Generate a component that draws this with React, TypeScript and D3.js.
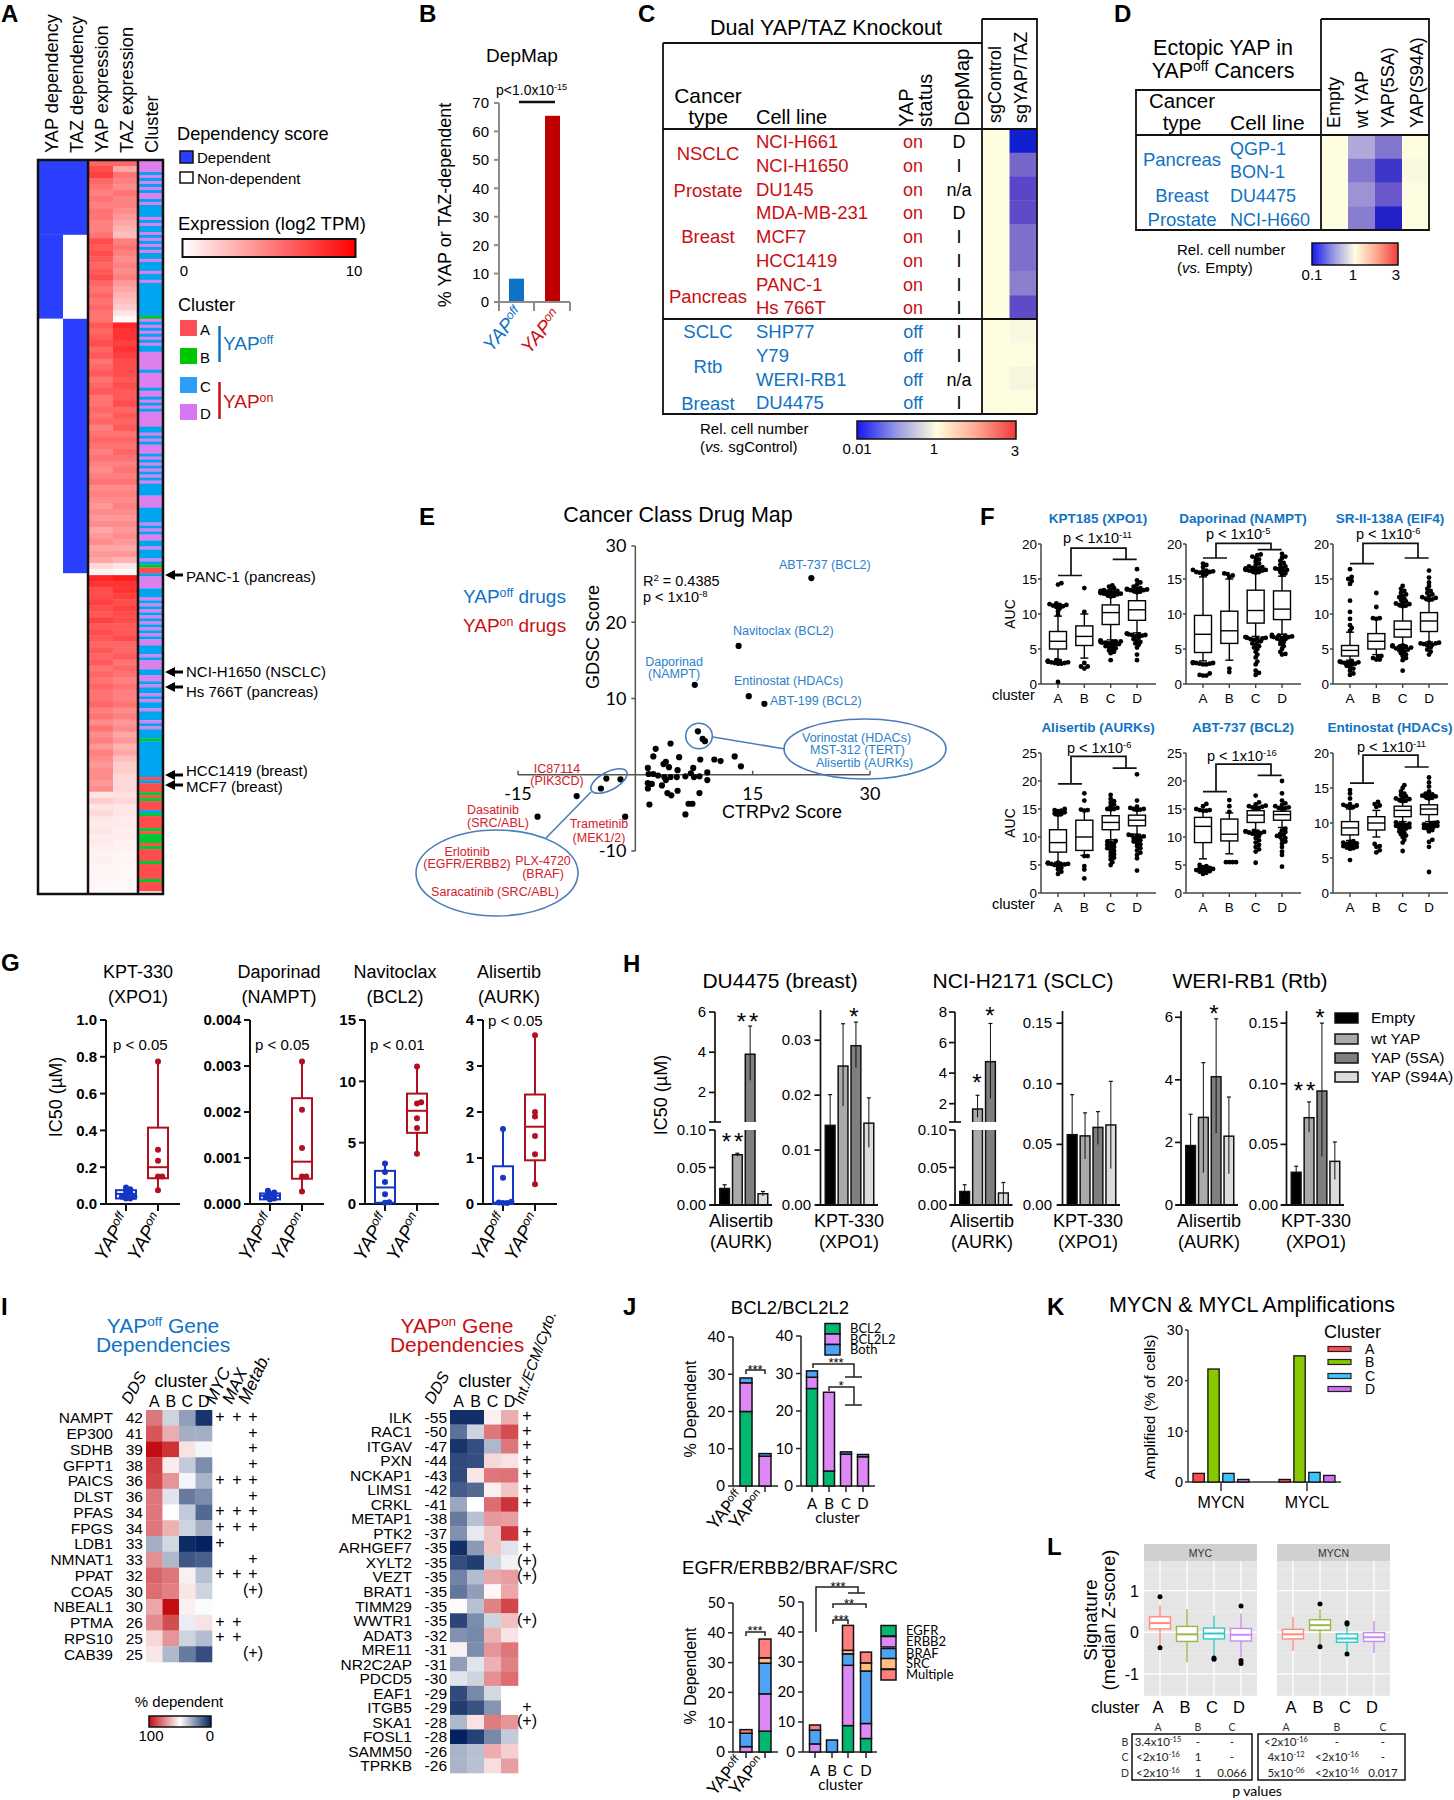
import * as d3 from 'd3';

const SANS = '"Liberation Sans", Arial, sans-serif';
const LATO = 'Lato, "Open Sans", sans-serif';
const BLUE = '#0f72c4';
const RED = '#c80f14';
const CLUSTERS = ['A', 'B', 'C', 'D'];

// ---- A: heatmap
const CLUSTER_COLORS = { A: '#ff4d4d', B: '#00c832', C: '#00a5f0', D: '#dd80ee' };
const DEP_GROUPS = [
  [1, 1, 25],
  [1, 0, 28],
  [0, 1, 85],
  [0, 0, 107],
];
const CLUSTER_RUNS: [string, number][] = [
  ['D', 4], ['C', 1], ['D', 1], ['C', 1], ['D', 1], ['C', 1], ['D', 1], ['C', 1], ['D', 2], ['C', 1], ['D', 1],
  ['C', 4], ['D', 1], ['C', 1], ['D', 1], ['C', 2], ['D', 1], ['C', 1], ['D', 1], ['C', 1], ['D', 1], ['C', 1],
  ['D', 1], ['C', 2], ['D', 1], ['C', 3], ['D', 1], ['C', 2], ['D', 1], ['C', 1], ['C', 10], ['B', 1],
  ['D', 1], ['C', 1], ['D', 1], ['C', 1], ['D', 1], ['C', 1], ['D', 1], ['C', 1], ['D', 1], ['C', 2],
  ['D', 6], ['C', 1], ['D', 5], ['C', 1], ['D', 2], ['C', 1], ['D', 1], ['C', 1], ['D', 1], ['C', 1], ['D', 5],
  ['C', 2], ['D', 1], ['C', 1], ['D', 1], ['C', 1], ['D', 3], ['C', 1], ['D', 1], ['C', 1], ['D', 1], ['C', 1],
  ['D', 1], ['C', 1], ['D', 1], ['C', 1], ['D', 1], ['C', 4], ['D', 4], ['C', 5], ['D', 1], ['C', 1], ['D', 1],
  ['C', 1], ['D', 2], ['C', 2], ['D', 1], ['C', 3], ['D', 1], ['C', 1], ['B', 1], ['A', 2], ['C', 1], ['D', 4],
  ['C', 3], ['D', 1], ['C', 1], ['D', 1], ['C', 1], ['D', 1], ['C', 1], ['D', 1], ['C', 1], ['D', 1], ['C', 1],
  ['D', 1], ['C', 1], ['D', 1], ['C', 1], ['D', 2], ['C', 3], ['D', 1], ['C', 1], ['D', 3], ['C', 2], ['D', 2],
  ['C', 1], ['D', 1], ['C', 2], ['D', 1], ['C', 1], ['D', 1], ['C', 2], ['D', 1], ['C', 3], ['D', 1], ['C', 1],
  ['D', 1], ['C', 3], ['B', 1], ['C', 12], ['A', 1], ['C', 1], ['A', 3], ['B', 1], ['A', 1], ['B', 1], ['A', 3],
  ['C', 1], ['B', 1], ['A', 4], ['B', 1], ['A', 1], ['B', 3], ['A', 1], ['B', 1], ['A', 4], ['B', 1], ['A', 5],
  ['B', 1], ['A', 3],
];
const YAP_EXPR = [
  6, 7, 7.5, 6, 5.5, 5, 5.5, 5, 5.5, 5.5, 5, 5, 5.5,
  7, 6.5, 7, 6.5, 6, 6.5, 7, 6, 5.5, 6, 5.5, 6, 5.5, 5.5,
  6.5, 6, 6.5, 7, 6, 6.5, 5.5, 6, 6.5, 5.5, 6, 6.5, 5.5, 5.5, 6, 5.5, 6, 5, 5.5, 6, 5.5, 5, 5.5, 5, 4.5, 5, 5.5, 4.5, 5, 4.5, 4, 4.5, 4, 4.5, 3.5, 4, 4.5, 3.5, 4, 3.5, 1.5, 0.5,
  8.5, 8, 7, 7, 7.5, 7, 6.5, 7.5, 6.5, 7, 6.5, 6, 6.5, 6, 6.5, 5.5, 6, 5.5, 6, 5.5, 5.5, 6, 5, 5.5, 4.5, 5.5, 4.5, 5, 4, 5, 4.5, 4, 4.5, 4.5, 4, 4.5,
  1, 2, 1, 1.5, 1, 0.8, 1, 0.7, 0.8, 0.6, 0.5, 0.6, 0.4, 0.4, 0.3, 0.3, 0.2,
];
const TAZ_EXPR = [
  6, 3.5, 5.5, 5, 4.5, 5.5, 5, 5, 4.5, 4, 3.5, 3, 2.5,
  5, 5.5, 5, 4.5, 5, 4.5, 5, 4, 3.5, 3, 2.5, 2, 1, 0.2,
  8.5, 8, 8, 7.5, 8, 7.5, 7, 7, 7, 6.5, 7, 6.5, 6.5, 7, 6, 6.5, 6, 6.5, 5.5, 6, 5.5, 6, 5.5, 5, 5.5, 5, 5.5, 4.5, 5, 4.5, 5, 4.5, 4, 4.5, 4, 4.5, 4, 3.5, 4, 3, 1, 0.2,
  9, 8, 8, 7.5, 7, 7.5, 7, 7, 6.5, 6.5, 7, 6, 6, 6.5, 5.5, 6, 5.5, 5, 5.5, 5, 5, 5.5, 4.5, 5, 4, 4.5, 3.5, 4, 3, 3.5, 2.5, 2, 2, 1.5, 1.5, 1.5,
  1.2, 1.5, 1, 1, 0.8, 0.8, 0.6, 0.7, 0.5, 0.5, 0.4, 0.4, 0.3, 0.3, 0.3, 0.2, 0.2,
];
const A_HEADERS = ['YAP dependency', 'TAZ dependency', 'YAP expression', 'TAZ expression', 'Cluster'];
const A_CALLOUTS: [string, number, number][] = [
  ['PANC-1 (pancreas)', 575, 582],
  ['NCI-H1650 (NSCLC)', 672, 677],
  ['Hs 766T (pancreas)', 687, 697],
  ['HCC1419 (breast)', 775, 776],
  ['MCF7 (breast)', 785, 792],
];

// ---- B
const B_VALUES = [8.2, 65.5];

// ---- C / D
const C_ROWS = [
  ['NCI-H661', 'on', 'D'], ['NCI-H1650', 'on', 'I'], ['DU145', 'on', 'n/a'], ['MDA-MB-231', 'on', 'D'],
  ['MCF7', 'on', 'I'], ['HCC1419', 'on', 'I'], ['PANC-1', 'on', 'I'], ['Hs 766T', 'on', 'I'],
  ['SHP77', 'off', 'I'], ['Y79', 'off', 'I'], ['WERI-RB1', 'off', 'n/a'], ['DU4475', 'off', 'I'],
];
const C_TYPES: [string, number, string][] = [
  ['NSCLC', 160, RED], ['Prostate', 197, RED], ['Breast', 243, RED], ['Pancreas', 303, RED],
  ['SCLC', 338, BLUE], ['Rtb', 373, BLUE], ['Breast', 410, BLUE],
];
const C_CONTROL = [1, 1, 1, 1, 1, 1, 1, 1, 1, 1, 1, 1];
const C_KO = [0.01, 0.06, 0.03, 0.033, 0.07, 0.07, 0.1, 0.033, 0.9, 1, 0.85, 1];
const D_ROWS = ['QGP-1', 'BON-1', 'DU4475', 'NCI-H660'];
const D_COLS = ['Empty', 'wt YAP', 'YAP(5SA)', 'YAP(S94A)'];
const D_VALUES = [
  [1, 1, 1, 1],
  [0.45, 0.27, 0.36, 0.29],
  [0.27, 0.13, 0.2, 0.1],
  [1, 0.95, 0.98, 1],
];

// ---- E
const E_POINTS = [
  [22.5, 25.8], [13.2, 16.9], [7.6, 11.8], [14.5, 10.3], [16.5, 9.3], [8, 5.7], [8.6, 4.7], [8.9, 4.4], [4.5, 4.1],
  [2.6, 3.4], [2.3, 2.4], [5.6, 2.3], [8.3, 2], [10.1, 2], [10.9, 1.8], [12.7, 2.4], [13.5, 1.1], [3.9, 1.7],
  [3.6, 1.4], [4.3, 1], [1.6, 0.9], [5.4, 0.6], [7.4, 0.9], [9.2, 0.3], [7.1, 0.2], [1.7, 0.1], [2.3, 0.1],
  [2.9, -0.1], [3.7, -0.3], [4.5, -0.3], [5.3, -0.3], [6.4, -0.2], [7.5, -0.3], [8.2, -0.2], [9.2, -0.7], [3.9, -0.7],
  [3.4, -1.4], [2.1, -1.2], [1.6, -1.1], [1.6, -1.8], [5.4, -2.1], [4.1, -2.4], [4.6, -2.7], [8.2, -2.4], [1.8, -3.9],
  [6.8, -3.8], [7.3, -3.8], [6.4, -5.2], [-1.3, -5.5], [-1.9, -0.6], [-3.7, -0.5], [-4.4, -1.8], [-7.5, -2.8], [-12.5, -5.5],
];
const E_BLUE_LABELS: [string, number, number, string?][] = [
  ['ABT-737 (BCL2)', 779, 569], ['Navitoclax (BCL2)', 733, 635], ['Daporinad', 674, 666, 'middle'], ['(NAMPT)', 674, 678, 'middle'],
  ['Entinostat (HDACs)', 734, 685], ['ABT-199 (BCL2)', 770, 705], ['Vorinostat (HDACs)', 802, 742], ['MST-312 (TERT)', 810, 754],
  ['Alisertib (AURKs)', 816, 767],
];
const E_RED_LABELS: [string, number, number][] = [
  ['IC87114', 557, 773], ['(PIK3CD)', 557, 785], ['Dasatinib', 493, 814], ['(SRC/ABL)', 498, 827], ['Trametinib', 599, 828],
  ['(MEK1/2)', 599, 842], ['Erlotinib', 467, 856], ['(EGFR/ERBB2)', 467, 868], ['PLX-4720', 543, 865], ['(BRAF)', 543, 878],
  ['Saracatinib (SRC/ABL)', 495, 896],
];

// ---- F: [q1, median, q3, whisker low, whisker high] per cluster
const F_TITLES = ['KPT185 (XPO1)', 'Daporinad (NAMPT)', 'SR-II-138A (EIF4)', 'Alisertib (AURKs)', 'ABT-737 (BCL2)', 'Entinostat (HDACs)'];
const F_PVALUES = ['-11', '-5', '-6', '-6', '-16', '-11'];
const F_YMAX = [20, 20, 20, 25, 25, 20];
const F_BRACKETS = [
  [15.5, 19.4, 17.8], [18, 20.1, 19.2], [17.2, 20.1, 18], [19.5, 24.4, 22.3], [18.1, 23, 21], [15.7, 19.7, 18],
];
const F_BOXES = [
  [[5, 6.1, 7.5, 3.4, 9.7], [5.5, 6.8, 8.3, 3.7, 10], [8.5, 10.2, 11.3, 6.3, 12.4], [9.1, 10.6, 11.9, 7.3, 13]],
  [[4.5, 7.1, 9.8, 3.3, 15.3], [5.8, 7.6, 10.4, 3.4, 15], [8.7, 10.5, 13.4, 6.8, 15.8], [9.2, 10.7, 13.3, 7.1, 15.4]],
  [[4, 4.8, 5.5, 3.4, 7.4], [5, 6.1, 7.2, 4.2, 9.3], [6.7, 7.8, 9, 5.6, 11], [7.5, 9, 10.2, 6, 11.9]],
  [[7.3, 9, 11.3, 5.5, 13.8], [7.6, 10, 13, 6.7, 14.8], [11.3, 12.6, 13.8, 9.5, 14.8], [12, 13, 13.9, 10.5, 14.7]],
  [[9, 11.9, 13.5, 6.1, 14.6], [9.3, 10.5, 13.2, 7, 14.3], [12.6, 13.9, 14.7, 11.2, 15], [13, 14, 14.6, 11.7, 14.9]],
  [[8.3, 9.3, 10.2, 7.5, 12], [9, 10, 10.9, 8, 11.8], [10.9, 11.8, 12.4, 10.2, 13], [11.2, 12, 12.6, 10.2, 13.4]],
];
const F_OUTLIERS = [
  [
    [3.4, 3.3, 3.3, 3.3, 3.2, 3.2, 3.1, 3.1, 3, 3, 2.9, 2.9, 0.3, 9.9, 10.4, 10.8, 11, 11.1, 11.2, 11.3, 11.3, 11.4, 11.5, 14.2, 14.4],
    [3, 2.5, 2.5, 2.2, 10.3, 13.7],
    [6.2, 6.2, 6.1, 6.1, 6, 6, 5.9, 5.9, 5.8, 5.7, 5.6, 5.5, 5.4, 5.3, 5.1, 5, 4.8, 4.6, 4.4, 3.4, 12.5, 12.6, 12.7, 12.8, 12.9, 12.9, 13, 13, 13.1, 13.1, 13.2, 13.3, 13.3, 13.4, 13.5, 13.7, 13.9, 14.1],
    [7.2, 7.2, 7.1, 7.1, 7, 7, 6.9, 6.8, 6.6, 6.4, 6.2, 6, 5.8, 5.6, 5.2, 4.2, 3.4, 13.1, 13.2, 13.3, 13.4, 13.4, 13.5, 13.5, 13.6, 13.6, 13.7, 13.9, 14.2, 14.5, 14.8, 16.4],
  ],
  [
    [3.1, 3.1, 3, 3, 3, 2.9, 2.9, 2.8, 2.8, 1.5, 1.3, 1.2, 1.2, 15.6, 15.7, 15.9, 16, 16, 16.1, 16.1, 16.2, 16.3, 16.7, 17, 17.2],
    [2.2, 1.7, 15.3, 15.5, 15.7, 15.8],
    [6.7, 6.7, 6.6, 6.6, 6.5, 6.5, 6.4, 6.3, 6.1, 6, 5.8, 5.6, 5.4, 5.2, 5, 4.6, 4.2, 3.8, 3.2, 2.8, 1.9, 1.6, 1.3, 15.9, 16, 16.1, 16.2, 16.2, 16.3, 16.3, 16.4, 16.4, 16.5, 16.5, 16.6, 16.7, 16.8, 17, 17.2, 17.5, 17.8, 18, 18.2, 18.4, 18.5],
    [7, 6.9, 6.9, 6.8, 6.8, 6.7, 6.7, 6.6, 6.5, 6.4, 6.2, 6, 5.7, 5.4, 5, 4.6, 4.3, 4.2, 15.6, 15.8, 16, 16.2, 16.3, 16.4, 16.5, 16.6, 16.8, 17, 17.3, 17.6, 18, 18.2, 18.6],
  ],
  [
    [3.3, 3.2, 3.2, 3.1, 3.1, 3, 3, 2.9, 2.8, 2.6, 2.4, 2.2, 1.9, 1.5, 1.3, 7.6, 8, 8.4, 9.3, 10.3, 11.9, 14.3, 14.7, 15, 15.3, 16.4],
    [4, 3.9, 3.7, 3.5, 3.5, 9.4, 9.4, 9.3, 11, 13],
    [5.5, 5.5, 5.4, 5.4, 5.3, 5.3, 5.2, 5.1, 5, 4.9, 4.8, 4.6, 4.4, 4.2, 4, 3.7, 3.4, 1.9, 11.1, 11.2, 11.3, 11.4, 11.5, 11.6, 11.8, 12, 12.2, 12.4, 12.6, 12.8, 13, 13.3, 13.6, 14],
    [5.9, 5.9, 5.8, 5.8, 5.7, 5.6, 5.5, 5.2, 4.9, 4.6, 4.2, 12, 12.1, 12.2, 12.3, 12.4, 12.6, 12.8, 13, 13.3, 13.6, 14, 14.5, 15.2, 16.2],
  ],
  [
    [5.4, 5.4, 5.3, 5.3, 5.2, 5.2, 5.1, 5.1, 5, 4.8, 4.5, 4.2, 3.8, 3.4, 14, 14.1, 14.2, 14.4, 14.6, 14.7, 14.8, 15],
    [6.6, 6.6, 4.8, 4.2, 2.6, 14.8, 14.9, 14.7, 16.5, 17.8],
    [9.3, 9.2, 9, 8.8, 8.6, 8.4, 8.2, 8, 7.8, 7.5, 7.2, 6.9, 6.6, 6.3, 6, 5.5, 5, 14.9, 15, 15, 15.2, 15.5, 15.8, 16.1, 16.4, 16.8, 17.5],
    [10.4, 10.3, 10.2, 10.1, 10, 9.8, 9.6, 9.4, 9.2, 9, 8.7, 8.4, 8, 7.6, 7.2, 6.8, 6.2, 4, 14.8, 14.9, 15, 15, 15.2, 15.4, 16.5, 21.2],
  ],
  [
    [5, 4.8, 4.6, 4.5, 4.4, 4.3, 4.2, 4.1, 4, 3.9, 3.8, 3.6, 3.4, 14.7, 14.7, 14.8, 14.8, 15, 15.5, 15.9],
    [5.5, 5.5, 5.5, 5.5, 14.5, 15.5, 16.6],
    [11.1, 11, 11, 10.9, 10.9, 10.8, 10.7, 10.6, 10.4, 10.2, 9.8, 9.4, 9, 8.6, 8.2, 7.8, 7.4, 5.4, 15.1, 15.2, 15.3, 15.4, 15.5, 15.6, 15.8, 16.2, 17.4],
    [11.5, 11.2, 10.9, 10.6, 10.4, 10.2, 10, 9.8, 9.5, 9.2, 8.8, 8.2, 7.4, 6.8, 4.7, 15, 15.1, 15.2, 15.3, 15.5, 15.7, 16, 16.5, 17.8, 20],
  ],
  [
    [7.4, 7.3, 7.2, 7.1, 7, 6.9, 6.8, 6.7, 6.6, 6.5, 6.4, 6.3, 4.7, 12.2, 12.3, 12.4, 12.5, 12.6, 12.7, 13.5, 14.2, 14.7],
    [7, 6.7, 6.6, 6.1, 5.8, 12.3, 12.5, 12.7, 13],
    [10.1, 10, 9.9, 9.8, 9.7, 9.6, 9.5, 9.4, 9.3, 9.2, 9, 8.8, 8.6, 8.4, 8.2, 8, 7.6, 7.2, 6, 13.1, 13.2, 13.3, 13.4, 13.5, 13.6, 13.8, 14, 14.2, 14.5, 15, 15.4],
    [10.1, 10, 9.9, 9.8, 9.7, 9.6, 9.5, 9.4, 9.3, 9.2, 9, 8.8, 7.6, 7.3, 6.6, 3, 13.5, 13.6, 13.7, 13.8, 13.9, 14, 14.1, 14.2, 14.5, 15.2, 15.8, 16.5],
  ],
];

// ---- G
const G_TITLES = [['KPT-330', '(XPO1)'], ['Daporinad', '(NAMPT)'], ['Navitoclax', '(BCL2)'], ['Alisertib', '(AURK)']];
const G_P = ['p < 0.05', 'p < 0.05', 'p < 0.01', 'p < 0.05'];
const G_MAX = [1, 0.004, 15, 4];
const G_TICKS = [
  ['0.0', '0.2', '0.4', '0.6', '0.8', '1.0'],
  ['0.000', '0.001', '0.002', '0.003', '0.004'],
  ['0', '5', '10', '15'],
  ['0', '1', '2', '3', '4'],
];
const G_OFF_BOX = [
  [0.03, 0.055, 0.075, 0.02, 0.09],
  [0.0001, 0.00018, 0.00023, 0.00007, 0.00029],
  [0.1, 1.35, 2.7, 0.1, 3.3],
  [0, 0.03, 0.82, 0, 1.63],
];
const G_ON_BOX = [
  [0.14, 0.2, 0.415, 0.075, 0.775],
  [0.00055, 0.00092, 0.0023, 0.00027, 0.0031],
  [5.8, 7.6, 9, 4.1, 11.2],
  [0.95, 1.68, 2.38, 0.43, 3.67],
];
const G_OFF_POINTS = [
  [0.09, 0.08, 0.06, 0.04, 0.03, 0.03, 0.04, 0.05, 0.07],
  [0.00029, 0.00025, 0.00022, 0.00015, 0.00012, 0.0001],
  [3.3, 2.6, 1.8, 0.8, 0.15, 0.1],
  [1.63, 0.57, 0.05, 0.03, 0.02, 0.02],
];
const G_ON_POINTS = [
  [0.775, 0.295, 0.235, 0.15, 0.15, 0.075],
  [0.0031, 0.00205, 0.00122, 0.0006, 0.0006, 0.00027],
  [11.2, 8.3, 8.2, 7, 6.2, 4.1],
  [3.67, 2, 1.9, 1.48, 1.08, 0.43],
];

// ---- H: [value, error high, error low]
const H_NAMES = ['Empty', 'wt YAP', 'YAP (5SA)', 'YAP (S94A)'];
const H_FILLS = ['#000', '#aaa', '#7f7f7f', '#dcdcdc'];
const H_TITLES = ['DU4475 (breast)', 'NCI-H2171 (SCLC)', 'WERI-RB1 (Rtb)'];
const H_BARS = [
  [[0.022, 0.027, 0.022], [0.067, 0.069, 0.065], [3.9, 5.3, 2.6], [0.015, 0.018, 0.012]],
  [[0.0145, 0.0201, 0.0145], [0.0253, 0.033, 0.018], [0.029, 0.0333, 0.025], [0.0149, 0.0195, 0.0105]],
  [[0.018, 0.027, 0.018], [1.65, 2.55, 1.1], [4.75, 7.25, 2.35], [0.016, 0.03, 0.001]],
  [[0.058, 0.091, 0.058], [0.057, 0.076, 0.038], [0.064, 0.077, 0.05], [0.066, 0.102, 0.03]],
  [[1.9, 2.9, 1.9], [2.8, 4.55, 1.03], [4.1, 5.95, 2.3], [2.2, 3.45, 1]],
  [[0.027, 0.032, 0.027], [0.072, 0.085, 0.06], [0.094, 0.15, 0.04], [0.036, 0.052, 0.021]],
];
const H_DRUGS = [['Alisertib', '(AURK)'], ['KPT-330', '(XPO1)']];
const H_TICK_LABELS = [
  ['0.00', '0.05', '0.10', '2', '4', '6'],
  ['0.00', '0.01', '0.02', '0.03'],
  ['0.00', '0.05', '0.10', '2', '4', '6', '8'],
  ['0.00', '0.05', '0.10', '0.15'],
  ['0', '2', '4', '6'],
  ['0.00', '0.05', '0.10', '0.15'],
];

// ---- I
const I_OFF_GENES = ['NAMPT', 'EP300', 'SDHB', 'GFPT1', 'PAICS', 'DLST', 'PFAS', 'FPGS', 'LDB1', 'NMNAT1', 'PPAT', 'COA5', 'NBEAL1', 'PTMA', 'RPS10', 'CAB39'];
const I_OFF_DDS = [42, 41, 39, 38, 36, 36, 34, 34, 33, 33, 32, 30, 30, 26, 25, 25];
const I_OFF_VALUES = [
  [78, 40, 28, 4], [85, 67, 32, 32], [100, 92, 56, 48], [90, 54, 38, 24], [88, 72, 48, 33], [78, 44, 20, 24],
  [78, 50, 38, 16], [78, 66, 40, 32], [32, 41, 2, 0], [73, 34, 12, 14], [82, 78, 53, 36], [80, 76, 55, 40],
  [68, 100, 53, 49], [74, 87, 46, 56], [58, 72, 40, 35], [55, 34, 20, 10],
];
const I_OFF_MYC = ['+', '', '', '', '+', '', '+', '+', '+', '', '+', '', '', '+', '+', ''];
const I_OFF_MAX = ['+', '', '', '', '+', '', '+', '+', '', '', '+', '', '', '+', '+', ''];
const I_OFF_METAB = ['+', '+', '+', '+', '+', '+', '+', '+', '', '+', '+', '(+)', '', '', '', '(+)'];
const I_ON_GENES = ['ILK', 'RAC1', 'ITGAV', 'PXN', 'NCKAP1', 'LIMS1', 'CRKL', 'METAP1', 'PTK2', 'ARHGEF7', 'XYLT2', 'VEZT', 'BRAT1', 'TIMM29', 'WWTR1', 'ADAT3', 'MRE11', 'NR2C2AP', 'PDCD5', 'EAF1', 'ITGB5', 'SKA1', 'FOSL1', 'SAMM50', 'TPRKB'];
const I_ON_DDS = [-55, -50, -47, -44, -43, -42, -41, -38, -37, -35, -35, -35, -35, -35, -35, -32, -31, -31, -30, -29, -29, -28, -28, -26, -26];
const I_ON_VALUES = [
  [3, 3, 53, 67], [18, 40, 78, 87], [4, 10, 34, 78], [9, 10, 58, 56], [9, 55, 78, 79], [13, 16, 53, 62], [30, 50, 80, 92],
  [20, 36, 71, 70], [25, 45, 62, 92], [3, 27, 62, 44], [10, 6, 40, 47], [22, 35, 68, 70], [19, 28, 52, 68], [51, 36, 76, 88],
  [8, 24, 40, 63], [25, 23, 66, 56], [53, 24, 72, 78], [28, 44, 66, 76], [44, 40, 73, 80], [9, 23, 41, 50], [6, 11, 26, 50],
  [34, 56, 77, 72], [0, 7, 23, 38], [33, 36, 67, 60], [33, 36, 57, 70],
];
const I_ON_FLAGS = ['+', '+', '+', '+', '+', '+', '+', '', '+', '+', '(+)', '(+)', '', '', '(+)', '', '', '', '', '', '+', '(+)', '', '', ''];

// ---- J
const J1_KEYS = ['BCL2', 'BCL2L2', 'Both'];
const J1_COLORS = ['#00b870', '#dd88f5', '#4fa3f7'];
const J1_YAP = [[20, 7.7, 1.3], [0, 8, 0.7]];
const J1_CLUSTER = [[26, 3, 1.7], [4, 21, 0], [0, 8.5, 0.6], [0, 7.8, 0.6]];
const J2_KEYS = ['EGFR', 'ERBB2', 'BRAF', 'SRC', 'Multiple'];
const J2_COLORS = ['#00b870', '#dd88f5', '#4fa3f7', '#ffbf7f', '#ff7f7f'];
const J2_YAP = [[0, 1.8, 4.5, 0, 1.2], [7, 12.5, 10.3, 1.8, 6.3]];
const J2_CLUSTER = [[0, 2.7, 4.6, 0, 1.7], [0, 0, 4, 0, 0], [8.8, 20.1, 3.8, 1.2, 8.3], [4.5, 5, 17.5, 2.7, 3.6]];

// ---- K
const K_COLORS = ['#ff4d4d', '#88c800', '#3fc0ff', '#d070f0'];
const K_GROUPS = ['MYCN', 'MYCL'];
const K_VALUES = [[1.7, 22.3, 1.7, 0.5], [0.5, 24.9, 1.9, 1.3]];

// ---- L
const L_COLORS = ['#ff8a80', '#9ab84a', '#30c8c8', '#c88af0'];
const L_PANELS = ['MYC', 'MYCN'];
const L_BOXES = [
  [[0.08, 0.22, 0.37, -0.35, 0.65], [-0.22, -0.05, 0.14, -0.72, 0.55], [-0.16, -0.03, 0.1, -0.6, 0.4], [-0.21, -0.06, 0.09, -0.6, 0.45]],
  [[-0.16, -0.05, 0.07, -0.45, 0.37], [0.05, 0.17, 0.3, -0.32, 0.55], [-0.24, -0.15, -0.04, -0.5, 0.15], [-0.22, -0.12, -0.01, -0.5, 0.27]],
];
const L_OUTLIERS = [
  [[0.85, -0.37], [], [-0.62, -0.65], [0.63, -0.68, -0.75]],
  [[], [0.68, -0.35], [0.2, 0.23, -0.52], []],
];
const L_P_LEFT = [
  [['3.4x10', '-15'], '-', '-'],
  [['<2x10', '-16'], '1', '-'],
  [['<2x10', '-16'], '1', '0.066'],
];
const L_P_RIGHT = [
  [['<2x10', '-16'], '-', '-'],
  [['4x10', '-12'], ['<2x10', '-16'], '-'],
  [['5x10', '-06'], ['<2x10', '-16'], '0.017'],
];

// ---- shared bits
const supText = (base: string, sup: string, rest?: string) => (
  <>
    {base}
    <tspan dy="-0.5em" fontSize="65%">{sup}</tspan>
    {rest != null && <tspan dy="0.325em">{rest}</tspan>}
  </>
);

function T({ x, y, s = 14, a = 'start', c = '#000', r = 0, f = SANS, b = false, i = false, ls, children }: any) {
  return (
    <text
      transform={`translate(${x},${y})${r ? ` rotate(${r})` : ''}`}
      fontSize={s}
      fontFamily={f}
      textAnchor={a}
      fill={c}
      stroke="none"
      letterSpacing={ls}
      fontWeight={b ? 'bold' : 'normal'}
      fontStyle={i ? 'italic' : 'normal'}
    >
      {children}
    </text>
  );
}

const Letter = ({ x, y, t }: any) => <T x={x} y={y + 1.5} s={24} b>{t}</T>;

function YAxis({ y, x, values, labels, left = 5, gap = 3, s = 14, c = '#000', w = 1.5, b = false, f = SANS }: any) {
  const [y0, y1] = y.range();
  return (
    <g>
      <line x1={x} x2={x} y1={y0} y2={y1} stroke={c} strokeWidth={w} />
      {values.map((v: number, i: number) => (
        <g key={i}>
          <line x1={x - left} x2={x} y1={y(v)} y2={y(v)} stroke={c} strokeWidth={w} />
          <T x={x - left - gap} y={y(v) + s * 0.36} s={s} a="end" b={b} f={f}>{labels ? labels[i] : v}</T>
        </g>
      ))}
    </g>
  );
}

// simple beeswarm: push a dot sideways until it clears the ones already placed
function swarm(values: number[], y: any, r: number, maxOffset: number) {
  const placed: { cx: number; cy: number }[] = [];
  const sorted = [...values].sort(d3.ascending);
  const steps = d3.range(0, Math.ceil(maxOffset / (r * 0.7)) + 1);
  sorted.forEach((v) => {
    const cy = y(v);
    let cx = 0;
    for (const k of steps) {
      const hit = (o: number) => placed.some((p) => Math.hypot(p.cx - o, p.cy - cy) < r * 1.2);
      if (!hit(k * r * 0.7)) { cx = k * r * 0.7; break; }
      if (!hit(-k * r * 0.7)) { cx = -k * r * 0.7; break; }
      cx = (k % 2 ? 1 : -1) * k * r * 0.7;
    }
    placed.push({ cx, cy });
  });
  return placed;
}

function colorBar(id: string, colors: string[]) {
  return (
    <linearGradient id={id}>
      {colors.map((c, i) => (
        <stop key={i} offset={i / (colors.length - 1)} stopColor={c} />
      ))}
    </linearGradient>
  );
}

// ---- panels
function PanelA() {
  const rows = d3.scaleLinear().domain([0, 245]).range([160, 894]);
  const exprRows = d3.scaleBand<number>().domain(d3.range(YAP_EXPR.length)).range([160, 894]);
  const red = d3.scaleLinear<string>().domain([0, 10]).range(['#fff', '#ff0000']);
  const colX = d3.scaleBand<number>().domain([0, 1, 2, 3, 4]).range([38, 163]);
  const cw = colX.bandwidth();
  let depStart = 0;
  let runStart = 0;
  return (
    <g>
      <Letter x={1} y={20} t="A" />
      {A_HEADERS.map((h, i) => (
        <T key={h} x={colX(i)! + cw / 2 + 7} y={153} s={18.2} r={-90}>{h}</T>
      ))}
      {DEP_GROUPS.map(([yap, taz, n]) => {
        const y0 = rows(depStart);
        depStart += n;
        const y1 = rows(depStart);
        return (
          <g key={y0}>
            <rect x={colX(0)} y={y0} width={cw} height={y1 - y0} fill={yap ? '#2b40ff' : '#fff'} />
            <rect x={colX(1)} y={y0} width={cw} height={y1 - y0} fill={taz ? '#2b40ff' : '#fff'} />
          </g>
        );
      })}
      {YAP_EXPR.map((v, i) => (
        <rect key={i} x={colX(2)} y={exprRows(i)} width={cw} height={exprRows.bandwidth() + 0.5} fill={red(v)} />
      ))}
      {TAZ_EXPR.map((v, i) => (
        <rect key={i} x={colX(3)} y={exprRows(i)} width={cw} height={exprRows.bandwidth() + 0.5} fill={red(v)} />
      ))}
      {CLUSTER_RUNS.map(([k, n], i) => {
        const y0 = rows(runStart);
        runStart += n;
        return <rect key={i} x={colX(4)} y={y0} width={cw} height={rows(runStart) - y0 + 0.3} fill={CLUSTER_COLORS[k]} />;
      })}
      <rect x={38} y={160} width={125} height={734} fill="none" stroke="#111" strokeWidth={2.5} />
      <line x1={88} x2={88} y1={160} y2={894} stroke="#111" strokeWidth={2.5} />
      <line x1={138} x2={138} y1={160} y2={894} stroke="#111" strokeWidth={2.5} />

      <T x={177} y={140} s={18.2}>Dependency score</T>
      <rect x={180} y={151} width={13} height={12} fill="#2b40ff" stroke="#111" strokeWidth={1.5} />
      <T x={197} y={163} s={15}>Dependent</T>
      <rect x={180} y={172} width={13} height={11} fill="#fff" stroke="#111" strokeWidth={1.5} />
      <T x={197} y={184} s={15}>Non-dependent</T>
      <T x={178} y={230} s={18.5}>Expression (log2 TPM)</T>
      <rect x={182.5} y={239} width={173} height={18} fill="url(#exprBar)" stroke="#111" strokeWidth={2} />
      <T x={184} y={276} s={15} a="middle">0</T>
      <T x={354} y={276} s={15} a="middle">10</T>
      <T x={178} y={311} s={18}>Cluster</T>
      {[320, 348, 377, 404].map((y, i) => (
        <g key={y}>
          <rect x={180} y={y} width={17} height={16} fill={['#ff4d55', '#00c800', '#2b9ff5', '#d878f0'][i]} />
          <T x={200} y={y + 15} s={15}>{CLUSTERS[i]}</T>
        </g>
      ))}
      <line x1={219.5} x2={219.5} y1={326} y2={362} stroke={BLUE} strokeWidth={2.5} />
      <T x={223} y={350} s={19} c={BLUE}>{supText('YAP', 'off')}</T>
      <line x1={219.5} x2={219.5} y1={382} y2={419} stroke={RED} strokeWidth={2.5} />
      <T x={223} y={408} s={19} c={RED}>{supText('YAP', 'on')}</T>
      {A_CALLOUTS.map(([t, ay, ty]) => (
        <g key={t}>
          <path d={`M165 ${ay}l10 -5v3.5h8v3h-8v3.5z`} fill="#000" />
          <T x={186} y={ty} s={15}>{t}</T>
        </g>
      ))}
    </g>
  );
}

function PanelB() {
  const y = d3.scaleLinear().domain([0, 70]).range([302, 103]);
  const x = d3.scalePoint<number>().domain([0, 1]).range([516.5, 552.5]);
  const grey = '#8c8c8c';
  return (
    <g>
      <Letter x={419} y={20} t="B" />
      <T x={522} y={62} s={19} a="middle">DepMap</T>
      <T x={496} y={95} s={14}>{supText('p<1.0x10', '-15')}</T>
      <line x1={519} x2={555} y1={102} y2={102} stroke="#111" strokeWidth={2.5} />
      <YAxis y={y} x={499} values={d3.range(0, 71, 10)} c={grey} w={2} gap={5} s={15} />
      <line x1={499} x2={570} y1={302} y2={302} stroke={grey} strokeWidth={2} />
      {[499, 534, 570].map((t) => <line key={t} x1={t} x2={t} y1={302} y2={311} stroke={grey} strokeWidth={2} />)}
      {B_VALUES.map((v, i) => (
        <rect key={i} x={x(i)! - 7.5} y={y(v)} width={15} height={y(0) - y(v) - 1} fill={i ? '#c00000' : BLUE} />
      ))}
      <T x={451} y={205} s={18} a="middle" r={-90}>% YAP or TAZ-dependent</T>
      <T x={524} y={314} s={19} a="end" r={-50} c={BLUE} i>{supText('YAP', 'off')}</T>
      <T x={562} y={316} s={19} a="end" r={-50} c={RED} i>{supText('YAP', 'on')}</T>
    </g>
  );
}

function PanelC() {
  const rowY = d3.scaleBand<number>().domain(d3.range(12)).range([129, 414]);
  const heat = d3.scaleLog<string>().domain([0.01, 0.03, 0.1, 0.3, 1, 3]).range(['#1020d0', '#5a46c8', '#8c80ce', '#c8c4dc', '#fffde0', '#f04040']);
  const col = d3.scaleBand<number>().domain([0, 1]).range([982, 1037]);
  return (
    <g>
      <Letter x={638} y={20} t="C" />
      <T x={826} y={35} s={21.5} a="middle">Dual YAP/TAZ Knockout</T>
      <T x={708} y={103} s={21} a="middle">Cancer</T>
      <T x={708} y={124} s={21} a="middle">type</T>
      <T x={756} y={124} s={20}>Cell line</T>
      <T x={913} y={127} s={20} r={-90}>YAP</T>
      <T x={932} y={127} s={20} r={-90}>status</T>
      <T x={969} y={126} s={20.5} r={-90}>DepMap</T>
      <T x={1001} y={123} s={18} r={-90}>sgControl</T>
      <T x={1027} y={123} s={18} r={-90}>sgYAP/TAZ</T>
      {C_ROWS.map(([name, status, dep], i) => {
        const c = status === 'on' ? RED : BLUE;
        const base = rowY(i)! + 19;
        return (
          <g key={name}>
            <T x={756} y={base} s={18.5} c={c}>{name}</T>
            <T x={913} y={base} s={18} a="middle" c={c}>{status}</T>
            <T x={959} y={base} s={18} a="middle">{dep}</T>
            <rect x={col(0)} y={rowY(i)} width={col.bandwidth()} height={rowY.bandwidth() + 0.4} fill={heat(C_CONTROL[i])} />
            <rect x={col(1)} y={rowY(i)} width={col.bandwidth()} height={rowY.bandwidth() + 0.4} fill={heat(C_KO[i])} />
          </g>
        );
      })}
      {C_TYPES.map(([t, y, c]) => <T key={t + y} x={708} y={y} s={18.5} a="middle" c={c}>{t}</T>)}
      <path d="M663 43H982M663 43V414H1037M663 129H1037M663 319H1037M982 19H1037V414M982 19V414" fill="none" stroke="#111" strokeWidth={1.8} />
      <T x={700} y={434} s={15}>Rel. cell number</T>
      <T x={700} y={452} s={15}>(<tspan fontStyle="italic">vs.</tspan> sgControl)</T>
      <rect x={857} y={421} width={159} height={18} fill="url(#cBar)" stroke="#111" strokeWidth={1.5} />
      <T x={857} y={454} s={15} a="middle">0.01</T>
      <T x={934} y={454} s={15} a="middle">1</T>
      <T x={1015} y={456} s={15} a="middle">3</T>
    </g>
  );
}

function PanelD() {
  const colX = d3.scaleBand<number>().domain(d3.range(4)).range([1321, 1429]);
  const rowY = d3.scaleBand<number>().domain(d3.range(4)).range([135, 230]);
  const heat = d3.scaleLog<string>().domain([0.1, 0.2, 0.3, 0.45, 1, 3]).range(['#2420c8', '#6a58cc', '#8c80d0', '#b0a8d8', '#fffde0', '#f04040']);
  const bases = [155, 178, 202, 226];
  const rotX = [1340, 1368, 1394, 1423];
  return (
    <g>
      <Letter x={1114} y={20} t="D" />
      <T x={1223} y={55} s={21.5} a="middle">Ectopic YAP in</T>
      <T x={1223} y={78} s={21.5} a="middle">{supText('YAP', 'off', ' Cancers')}</T>
      <T x={1182} y={108} s={20.5} a="middle">Cancer</T>
      <T x={1182} y={130} s={20.5} a="middle">type</T>
      <T x={1230} y={130} s={21}>Cell line</T>
      {D_COLS.map((t, i) => <T key={t} x={rotX[i]} y={128} s={18} r={-90}>{t}</T>)}
      {D_VALUES.map((col, j) =>
        col.map((v, i) => (
          <rect key={`${j}-${i}`} x={colX(j)} y={rowY(i)} width={colX.bandwidth()} height={rowY.bandwidth() + 0.4} fill={heat(v)} />
        ))
      )}
      <T x={1182} y={166} s={18.5} a="middle" c={BLUE}>Pancreas</T>
      <T x={1182} y={202} s={18.5} a="middle" c={BLUE}>Breast</T>
      <T x={1182} y={226} s={18.5} a="middle" c={BLUE}>Prostate</T>
      {D_ROWS.map((t, i) => <T key={t} x={1230} y={bases[i]} s={18} c={BLUE}>{t}</T>)}
      <path d="M1321 19H1429V230H1136V90H1321M1136 135H1429M1321 19V230" fill="none" stroke="#111" strokeWidth={1.8} />
      <T x={1177} y={255} s={15}>Rel. cell number</T>
      <T x={1177} y={273} s={15}>(<tspan fontStyle="italic">vs.</tspan> Empty)</T>
      <rect x={1312} y={243} width={86} height={22} fill="url(#dBar)" stroke="#111" strokeWidth={1.5} />
      <T x={1312} y={280} s={15} a="middle">0.1</T>
      <T x={1353} y={280} s={15} a="middle">1</T>
      <T x={1396} y={280} s={15} a="middle">3</T>
    </g>
  );
}

function PanelE() {
  const x = d3.scaleLinear().domain([-15, 30]).range([518, 870]);
  const y = d3.scaleLinear().domain([-10, 30]).range([851, 546]);
  const axisC = '#555';
  const ell = '#4a7ebb';
  return (
    <g>
      <Letter x={419} y={523} t="E" />
      <T x={678} y={522} s={21.5} a="middle">Cancer Class Drug Map</T>
      <YAxis y={y} x={x(0)} values={[-10, 10, 20, 30]} c={axisC} s={18} left={4} gap={5} f={LATO} />
      <line x1={x(-15)} x2={x(30)} y1={y(0)} y2={y(0)} stroke={axisC} strokeWidth={1.5} />
      {[-15, 15, 30].map((t) => (
        <g key={t}>
          <line x1={x(t)} x2={x(t)} y1={y(0)} y2={y(0) - 4} stroke={axisC} strokeWidth={1.5} />
          <T x={x(t)} y={800} s={18} a="middle" f={LATO}>{t}</T>
        </g>
      ))}
      <T x={722} y={818} s={18}>CTRPv2 Score</T>
      <T x={599} y={637} s={18} a="middle" r={-90}>GDSC Score</T>
      <T x={643} y={586} s={14.5}>R<tspan dy="-0.5em" fontSize="65%">2</tspan><tspan dy="0.325em"> = 0.4385</tspan></T>
      <T x={643} y={602} s={14.5}>{supText('p < 1x10', '-8')}</T>
      <T x={463} y={603} s={19} c={BLUE}>{supText('YAP', 'off', ' drugs')}</T>
      <T x={463} y={632} s={19} c={RED}>{supText('YAP', 'on', ' drugs')}</T>
      {E_POINTS.map(([a, b], i) => <circle key={i} cx={x(a)} cy={y(b)} r={3.1} fill="#000" />)}
      {E_BLUE_LABELS.map(([t, lx, ly, an]) => <T key={t} x={lx} y={ly} s={12.5} a={an || 'start'} c="#2a80cc">{t}</T>)}
      {E_RED_LABELS.map(([t, lx, ly]) => <T key={t} x={lx} y={ly} s={12.5} a="middle" c="#d3202a">{t}</T>)}
      <g fill="none" stroke={ell} strokeWidth={1.6}>
        <ellipse cx={865} cy={749} rx={81} ry={30} />
        <ellipse cx={699} cy={736} rx={13.3} ry={12.7} />
        <path d="M713 737L785 749" />
        <ellipse cx={609} cy={781} rx={20} ry={9} transform="rotate(-28 609 781)" />
        <ellipse cx={497} cy={873} rx={81} ry={43} />
        <path d="M591 792L546 838" />
      </g>
    </g>
  );
}

function PanelF() {
  const layout = [1041, 1186, 1333];
  const grey = '#444';
  return (
    <g>
      <Letter x={980} y={523} t="F" />
      {F_TITLES.map((title, p) => {
        const row = p < 3 ? 0 : 1;
        const x0 = layout[p % 3];
        const bottom = row ? 893 : 684;
        const y = d3.scaleLinear().domain([0, F_YMAX[p]]).range([bottom, bottom - 140]);
        const x = d3.scalePoint<string>().domain(CLUSTERS).range([x0 + 17, x0 + 96]);
        const [ab, top, cd] = F_BRACKETS[p];
        const left = x0 + 30;
        const right = x0 + 85;
        const pX = [1063, 1206, 1356, 1067, 1207, 1357][p];
        const pY = [543, 539, 539, 753, 761, 752][p];
        return (
          <g key={title}>
            <T x={x0 + 57} y={row ? 732 : 523} s={13.5} a="middle" c={BLUE} b>{title}</T>
            <T x={pX} y={pY} s={14.5}>{supText('p < 1x10', F_PVALUES[p])}</T>
            <YAxis y={y} x={x0} values={d3.range(0, F_YMAX[p] + 1, 5)} c={grey} s={13.5} left={3} gap={1} />
            <line x1={x0} x2={x0 + 115} y1={bottom} y2={bottom} stroke={grey} strokeWidth={1.5} />
            <path
              d={`M${x('A')} ${y(ab)}h24M${left} ${y(ab)}V${y(top)}H${right}V${y(cd)}M${x('C')! + 2} ${y(cd)}h24`}
              fill="none"
              stroke="#111"
              strokeWidth={1.7}
            />
            {CLUSTERS.map((c, k) => {
              const [q1, med, q3, lo, hi] = F_BOXES[p][k];
              const cx = x(c)!;
              return (
                <g key={c} stroke="#000" strokeWidth={1.4}>
                  <line x1={cx} x2={cx} y1={bottom} y2={bottom + 4} stroke={grey} />
                  <line x1={cx} x2={cx} y1={y(lo)} y2={y(hi)} />
                  <line x1={cx - 4} x2={cx + 4} y1={y(lo)} y2={y(lo)} />
                  <line x1={cx - 4} x2={cx + 4} y1={y(hi)} y2={y(hi)} />
                  <rect x={cx - 8.5} y={y(q3)} width={17} height={y(q1) - y(q3)} fill="#fff" />
                  <line x1={cx - 8.5} x2={cx + 8.5} y1={y(med)} y2={y(med)} />
                  {swarm(F_OUTLIERS[p][k], y, 2.4, 9).map((d, i) => (
                    <circle key={i} cx={cx + d.cx} cy={d.cy} r={2.4} fill="#000" stroke="none" />
                  ))}
                  <T x={cx} y={row ? 912 : 703} s={13.5} a="middle">{c}</T>
                </g>
              );
            })}
          </g>
        );
      })}
      <T x={1015} y={614} s={14} a="middle" r={-90}>AUC</T>
      <T x={1015} y={823} s={14} a="middle" r={-90}>AUC</T>
      <T x={992} y={700} s={14.5}>cluster</T>
      <T x={992} y={909} s={14.5}>cluster</T>
    </g>
  );
}

function GBox({ cx, y, box, pts, color }: any) {
  const [q1, med, q3, lo, hi] = box;
  return (
    <g stroke={color} strokeWidth={2}>
      <line x1={cx} x2={cx} y1={y(lo)} y2={y(q1)} />
      <line x1={cx} x2={cx} y1={y(q3)} y2={y(hi)} />
      <rect x={cx - 10} y={y(q3)} width={20} height={y(q1) - y(q3)} fill="none" />
      <line x1={cx - 10} x2={cx + 10} y1={y(med)} y2={y(med)} />
      {swarm(pts, y, 3, 8).map((d, i) => <circle key={i} cx={cx + d.cx} cy={d.cy} r={3} fill={color} stroke="none" />)}
    </g>
  );
}

function PanelG() {
  const axisX = [106, 250, 365, 483];
  const titleX = [138, 279, 395, 509];
  const pX = [113, 255, 370, 488];
  const pY = [1050, 1050, 1050, 1026];
  return (
    <g>
      <Letter x={1} y={969} t="G" />
      {G_TITLES.map((title, p) => {
        const x0 = axisX[p];
        const y = d3.scaleLinear().domain([0, G_MAX[p]]).range([1204, 1020]);
        const ticks = G_TICKS[p].map(Number);
        return (
          <g key={title[0]}>
            <T x={titleX[p]} y={978} s={18} a="middle">{title[0]}</T>
            <T x={titleX[p]} y={1003} s={18} a="middle">{title[1]}</T>
            <T x={pX[p]} y={pY[p]} s={15}>{G_P[p]}</T>
            <YAxis y={y} x={x0} values={ticks} labels={G_TICKS[p]} s={15} b left={6} gap={3} w={2} c="#111" />
            <line x1={x0} x2={x0 + 74} y1={1204} y2={1204} stroke="#111" strokeWidth={2} />
            {[20, 52].map((dx) => <line key={dx} x1={x0 + dx} x2={x0 + dx} y1={1204} y2={1211} stroke="#111" strokeWidth={2} />)}
            <GBox cx={x0 + 20} y={y} box={G_OFF_BOX[p]} pts={G_OFF_POINTS[p]} color="#1535c5" />
            <GBox cx={x0 + 52} y={y} box={G_ON_BOX[p]} pts={G_ON_POINTS[p]} color="#b01020" />
            <T x={x0 + 24} y={1218} s={19} a="end" r={-60} i>{supText('YAP', 'off')}</T>
            <T x={x0 + 57} y={1218} s={19} a="end" r={-60} i>{supText('YAP', 'on')}</T>
          </g>
        );
      })}
      <T x={62} y={1097} s={18} a="middle" r={-90}>IC50 (µM)</T>
    </g>
  );
}

function HChart({ axisX, endX, bars, y, ticks, labels, labelRight, drug, drugX, segs, gap }: any) {
  const x = d3.scaleBand<number>().domain(d3.range(4)).range([axisX + 4.5, endX - 4]).paddingInner(0.24).paddingOuter(0.02);
  return (
    <g>
      {bars.map(([v, hi, lo]: number[], i: number) => {
        const bx = x(i)!;
        const mid = bx + x.bandwidth() / 2;
        return (
          <g key={i} stroke="#111">
            <rect x={bx} y={y(v)} width={x.bandwidth()} height={1205 - y(v)} fill={H_FILLS[i]} strokeWidth={1.5} />
            <line x1={mid} x2={mid} y1={y(lo)} y2={y(hi)} strokeWidth={1} />
            <line x1={mid - 2} x2={mid + 2} y1={y(hi)} y2={y(hi)} strokeWidth={1.2} />
          </g>
        );
      })}
      {gap && <rect x={axisX - 12} y={gap[0]} width={endX - axisX + 12} height={gap[1] - gap[0]} fill="#fff" />}
      {segs.map(([a, b]: number[], i: number) => <line key={i} x1={axisX} x2={axisX} y1={a} y2={b} stroke="#111" strokeWidth={1.7} />)}
      {gap && <line x1={axisX - 6} x2={axisX + 6} y1={gap[0]} y2={gap[0]} stroke="#111" strokeWidth={1.7} />}
      <line x1={axisX - 5} x2={endX} y1={1205} y2={1205} stroke="#111" strokeWidth={2} />
      {ticks.map((t: number, i: number) => (
        <g key={i}>
          <line x1={axisX - 6} x2={axisX} y1={y(t)} y2={y(t)} stroke="#111" strokeWidth={1.7} />
          <T x={labelRight} y={y(t) + 5} s={15} a="end">{labels[i]}</T>
        </g>
      ))}
      <T x={drugX} y={1227} s={18} a="middle">{drug[0]}</T>
      <T x={drugX} y={1248} s={18} a="middle">{drug[1]}</T>
    </g>
  );
}

const Star = ({ x, y, t }: any) => <T x={x} y={y + 13} s={24} a="middle" ls={t.length > 1 ? 3 : 0}>{t}</T>;

function PanelH() {
  const y1 = d3.scaleLinear().domain([0, 0.1, 0.53, 6]).range([1205, 1130, 1122, 1012]);
  const y2 = d3.scaleLinear().domain([0, 0.0355]).range([1205, 1010]);
  const y3 = d3.scaleLinear().domain([0, 0.1, 0.8, 8]).range([1205, 1130, 1122, 1012]);
  const y4 = d3.scaleLinear().domain([0, 0.16]).range([1205, 1011]);
  const y5 = d3.scaleLinear().domain([0, 6.2]).range([1205, 1011]);
  return (
    <g>
      <Letter x={623} y={970} t="H" />
      {H_TITLES.map((t, i) => <T key={t} x={[780, 1023, 1250][i]} y={988} s={21} a="middle">{t}</T>)}
      <T x={667} y={1095} s={18} a="middle" r={-90}>IC50 (µM)</T>
      <HChart axisX={715} endX={772} bars={H_BARS[0]} y={y1} ticks={[0, 0.05, 0.1, 2, 4, 6]} labels={H_TICK_LABELS[0]} labelRight={706} drug={H_DRUGS[0]} drugX={741} segs={[[1205, 1130], [1122, 1012]]} gap={[1122, 1130]} />
      <HChart axisX={820.5} endX={878} bars={H_BARS[1]} y={y2} ticks={[0, 0.01, 0.02, 0.03]} labels={H_TICK_LABELS[1]} labelRight={811} drug={H_DRUGS[1]} drugX={849} segs={[[1205, 1010]]} />
      <HChart axisX={955} endX={1012.5} bars={H_BARS[2]} y={y3} ticks={[0, 0.05, 0.1, 2, 4, 6, 8]} labels={H_TICK_LABELS[2]} labelRight={947} drug={H_DRUGS[0]} drugX={982} segs={[[1205, 1130], [1122, 1012]]} gap={[1122, 1130]} />
      <HChart axisX={1062.5} endX={1120} bars={H_BARS[3]} y={y4} ticks={[0, 0.05, 0.1, 0.15]} labels={H_TICK_LABELS[3]} labelRight={1052} drug={H_DRUGS[1]} drugX={1088} segs={[[1205, 1011]]} />
      <HChart axisX={1181} endX={1238} bars={H_BARS[4]} y={y5} ticks={[0, 2, 4, 6]} labels={H_TICK_LABELS[4]} labelRight={1173} drug={H_DRUGS[0]} drugX={1209} segs={[[1205, 1011]]} />
      <HChart axisX={1286.5} endX={1344} bars={H_BARS[5]} y={y4} ticks={[0, 0.05, 0.1, 0.15]} labels={H_TICK_LABELS[5]} labelRight={1278} drug={H_DRUGS[1]} drugX={1316} segs={[[1205, 1011]]} />
      <Star x={749} y={1017} t="**" />
      <Star x={734} y={1137} t="**" />
      <Star x={854} y={1012} t="*" />
      <Star x={977} y={1078} t="*" />
      <Star x={990} y={1011} t="*" />
      <Star x={1214} y={1009} t="*" />
      <Star x={1306} y={1086} t="**" />
      <Star x={1320} y={1013} t="*" />
      {H_NAMES.map((t, i) => {
        const cy = [1018, 1039, 1058, 1077][i];
        return (
          <g key={t}>
            <rect x={1335} y={cy - 5} width={23} height={10} fill={H_FILLS[i]} stroke="#111" strokeWidth={1.5} />
            <T x={1371} y={cy + 5} s={15.5}>{t}</T>
          </g>
        );
      })}
    </g>
  );
}

const heatColor = d3.scaleLinear<string>().domain([0, 50, 100]).range(['#03225f', '#ffffff', '#c40d13']);

function GeneHeat({ genes, dds, values, xRange, yRange, geneRight, ddsRight }: any) {
  const rowY = d3.scaleBand<number>().domain(d3.range(genes.length)).range(yRange);
  const colX = d3.scaleBand<string>().domain(CLUSTERS).range(xRange);
  return (
    <g>
      {genes.map((g: string, i: number) => (
        <g key={g}>
          <T x={geneRight} y={rowY(i)! + rowY.bandwidth() / 2 + 5.5} s={15.5} a="end">{g}</T>
          <T x={ddsRight} y={rowY(i)! + rowY.bandwidth() / 2 + 5.5} s={15.5} a="end">{dds[i]}</T>
          {values[i].map((v: number, k: number) => (
            <rect key={k} x={colX(CLUSTERS[k])} y={rowY(i)} width={colX.bandwidth() + 0.3} height={rowY.bandwidth() + 0.3} fill={heatColor(v)} />
          ))}
        </g>
      ))}
      {CLUSTERS.map((c) => <T key={c} x={colX(c)! + colX.bandwidth() / 2} y={1407} s={16} a="middle">{c}</T>)}
    </g>
  );
}

function PanelI() {
  const rowOff = d3.scaleBand<number>().domain(d3.range(16)).range([1410, 1662]);
  const rowOn = d3.scaleBand<number>().domain(d3.range(25)).range([1410, 1773]);
  return (
    <g>
      <Letter x={1} y={1313} t="I" />
      <T x={163} y={1333} s={21} a="middle" c={BLUE}>{supText('YAP', 'off', ' Gene')}</T>
      <T x={163} y={1352} s={21} a="middle" c={BLUE}>Dependencies</T>
      <T x={181} y={1387} s={18} a="middle">cluster</T>
      <T x={130} y={1405} s={16} r={-60} i>DDS</T>
      <T x={215} y={1405} s={17} r={-65} i>MYC</T>
      <T x={232} y={1405} s={17} r={-65} i>MAX</T>
      <T x={248} y={1405} s={17.5} r={-65} i>Metab.</T>
      <GeneHeat genes={I_OFF_GENES} dds={I_OFF_DDS} values={I_OFF_VALUES} xRange={[146, 212]} yRange={[1410, 1662]} geneRight={113} ddsRight={143} />
      {[I_OFF_MYC, I_OFF_MAX, I_OFF_METAB].map((flags, k) =>
        flags.map((f, i) => f && (
          <T key={`${k}-${i}`} x={[220, 237, 253][k]} y={rowOff(i)! + rowOff.bandwidth() / 2 + 4} s={16} a="middle">{f}</T>
        ))
      )}
      <T x={179} y={1707} s={15} a="middle">% dependent</T>
      <rect x={149} y={1716} width={62} height={11} fill="url(#iBar)" stroke="#111" strokeWidth={1.5} />
      <T x={151} y={1741} s={15} a="middle">100</T>
      <T x={210} y={1741} s={15} a="middle">0</T>

      <T x={457} y={1333} s={21} a="middle" c={RED}>{supText('YAP', 'on', ' Gene')}</T>
      <T x={457} y={1352} s={21} a="middle" c={RED}>Dependencies</T>
      <T x={485} y={1387} s={18} a="middle">cluster</T>
      <T x={433} y={1405} s={16} r={-60} i>DDS</T>
      <T x={523} y={1405} s={15} r={-70} i>Int./ECM/Cyto.</T>
      <GeneHeat genes={I_ON_GENES} dds={I_ON_DDS} values={I_ON_VALUES} xRange={[450, 518]} yRange={[1410, 1773]} geneRight={412} ddsRight={447} />
      {I_ON_FLAGS.map((f, i) => f && (
        <T key={i} x={527} y={rowOn(i)! + rowOn.bandwidth() / 2 + 4} s={16} a="middle">{f}</T>
      ))}
    </g>
  );
}

function Stacked({ rows, colors, centers, width, y }: any) {
  const layers = d3.stack<number[]>().keys(d3.range(colors.length) as any)(rows);
  return (
    <g stroke="#111" strokeWidth={1.5}>
      {layers.map((layer: any, k: number) =>
        layer.map((d: number[], i: number) => d[1] > d[0] && (
          <rect key={`${k}-${i}`} x={centers[i] - width / 2} y={y(d[1])} width={width} height={y(d[0]) - y(d[1])} fill={colors[k]} />
        ))
      )}
    </g>
  );
}

function JGroup({ title, titleY, keys, colors, yap, cluster, max, top, base, clusterAxisX, clusterEnd, centers, legendX, legendTextX, legendYs, labelY, ylabelY }: any) {
  const yL = d3.scaleLinear().domain([0, max]).range([base, top]);
  const yR = d3.scaleLinear().domain([0, max]).range([base, top - 1]);
  const ticks = d3.range(0, max + 1, 10);
  return (
    <g>
      <T x={790} y={titleY} s={18.5} a="middle">{title}</T>
      <T x={696} y={ylabelY} s={16} a="middle" r={-90}>% Dependent</T>
      <YAxis y={yL} x={733} values={ticks} c="#222" s={15} left={5} gap={3} f={LATO} />
      <line x1={733} x2={778} y1={base} y2={base} stroke="#222" strokeWidth={1.5} />
      <Stacked rows={yap} colors={colors} centers={[746, 765]} width={12} y={yL} />
      {[746, 765].map((c) => <line key={c} x1={c} x2={c} y1={base} y2={base + 6} stroke="#222" strokeWidth={1.5} />)}
      <T x={744} y={base + 10} s={17} a="end" r={-50} f={LATO}>{supText('YAP', 'off')}</T>
      <T x={765} y={base + 10} s={17} a="end" r={-50} f={LATO}>{supText('YAP', 'on')}</T>
      <YAxis y={yR} x={clusterAxisX} values={ticks} c="#222" s={15} left={5} gap={3} f={LATO} />
      <line x1={clusterAxisX} x2={clusterEnd} y1={base} y2={base} stroke="#222" strokeWidth={1.5} />
      <Stacked rows={cluster} colors={colors} centers={centers} width={11} y={yR} />
      {centers.map((c: number, i: number) => (
        <g key={c}>
          <line x1={c} x2={c} y1={base} y2={base + 6} stroke="#222" strokeWidth={1.5} />
          <T x={c} y={labelY} s={15} a="middle" f={LATO}>{CLUSTERS[i]}</T>
        </g>
      ))}
      <T x={(centers[0] + centers[3]) / 2} y={labelY + 14} s={15} a="middle" f={LATO}>cluster</T>
      {keys.map((k: string, i: number) => (
        <g key={k}>
          <rect x={legendX} y={legendYs[i] - 9.5} width={15} height={10.5} fill={colors[i]} stroke="#111" strokeWidth={1.5} />
          <T x={legendTextX} y={legendYs[i]} s={13} f={LATO}>{k}</T>
        </g>
      ))}
    </g>
  );
}

function PanelJ() {
  const bracket = { fill: 'none', stroke: '#222', strokeWidth: 1.5 };
  return (
    <g>
      <Letter x={623} y={1313} t="J" />
      <JGroup title="BCL2/BCL2L2" titleY={1314} keys={J1_KEYS} colors={J1_COLORS} yap={J1_YAP} cluster={J1_CLUSTER} max={40} top={1337} base={1486} clusterAxisX={801} clusterEnd={875} centers={[812, 829, 846, 863]} legendX={825} legendTextX={850} legendYs={[1333, 1343.5, 1354]} labelY={1509} ylabelY={1409} />
      <JGroup title="EGFR/ERBB2/BRAF/SRC" titleY={1574} keys={J2_KEYS} colors={J2_COLORS} yap={J2_YAP} cluster={J2_CLUSTER} max={50} top={1603} base={1752} clusterAxisX={803} clusterEnd={877} centers={[815, 832, 848, 866]} legendX={881} legendTextX={906} legendYs={[1635, 1646, 1658, 1668, 1679]} labelY={1776} ylabelY={1676} />
      <path d="M746 1374V1370H765V1374M813 1368V1364H854V1377M845 1377H862M829 1391V1387H854V1405M845 1405H862" {...bracket} />
      <path d="M746 1636V1632H765V1636M816 1632V1587H858V1593M848 1593H865M833 1608V1604H866V1608M833 1624V1620H848V1624" {...bracket} />
      <T x={755} y={1374} s={13} a="middle">***</T>
      <T x={836} y={1367} s={13} a="middle">***</T>
      <T x={841} y={1390} s={13} a="middle">*</T>
      <T x={755} y={1635} s={13} a="middle">***</T>
      <T x={838} y={1591} s={13} a="middle">***</T>
      <T x={849} y={1608} s={13} a="middle">**</T>
      <T x={841} y={1624} s={13} a="middle">***</T>
    </g>
  );
}

function PanelK() {
  const y = d3.scaleLinear().domain([0, 30]).range([1482, 1330]);
  const groupX = d3.scalePoint<string>().domain(K_GROUPS).range([1221, 1307]);
  const barX = d3.scaleBand<number>().domain(d3.range(4)).range([-28, 28]).paddingInner(0.24).paddingOuter(0);
  return (
    <g>
      <Letter x={1047} y={1313} t="K" />
      <T x={1252} y={1312} s={21.5} a="middle">MYCN &amp; MYCL Amplifications</T>
      <YAxis y={y} x={1188} values={[0, 10, 20, 30]} c="#333" s={14.5} left={3} gap={2} />
      <line x1={1188} x2={1341} y1={1482} y2={1482} stroke="#333" strokeWidth={1.5} />
      <T x={1155} y={1407} s={15.5} a="middle" r={-90}>Amplified (% of cells)</T>
      {K_GROUPS.map((g, j) => (
        <g key={g}>
          <line x1={groupX(g)} x2={groupX(g)} y1={1482} y2={1491} stroke="#333" strokeWidth={1.5} />
          <T x={groupX(g)} y={1508} s={16} a="middle">{g}</T>
          {K_VALUES[j].map((v, i) => (
            <rect key={i} x={groupX(g)! + barX(i)!} y={y(v)} width={barX.bandwidth()} height={y(0) - y(v)} fill={K_COLORS[i]} stroke="#111" strokeWidth={1.3} />
          ))}
        </g>
      ))}
      <T x={1324} y={1338} s={18}>Cluster</T>
      {CLUSTERS.map((c, i) => {
        const cy = [1349, 1362, 1376, 1389][i];
        return (
          <g key={c}>
            <rect x={1328} y={cy - 2.5} width={23} height={5} fill={K_COLORS[i]} stroke="#222" strokeWidth={1.2} />
            <T x={1365} y={cy + 5} s={14}>{c}</T>
          </g>
        );
      })}
    </g>
  );
}

function PTable({ rows, cols, box, rowLabels }: any) {
  const ys = [1746, 1761, 1777];
  return (
    <g>
      <rect x={box[0]} y={1734} width={box[1] - box[0]} height={46} fill="none" stroke="#111" strokeWidth={1.5} />
      {['A', 'B', 'C'].map((c, i) => <T key={c} x={cols[i]} y={1731} s={10.5} a="middle" f={LATO} c="#333">{c}</T>)}
      {rows.map((r: any[], j: number) => (
        <g key={j}>
          {rowLabels && <T x={1125} y={ys[j]} s={10.5} a="middle" f={LATO} c="#333">{['B', 'C', 'D'][j]}</T>}
          {r.map((v: any, i: number) => (
            <T key={i} x={cols[i]} y={ys[j]} s={11.5} a="middle" f={LATO} c="#222">
              {Array.isArray(v) ? supText(v[0], v[1]) : v}
            </T>
          ))}
        </g>
      ))}
    </g>
  );
}

function PanelL() {
  const y = d3.scaleLinear().domain([-1.53, 1.71]).range([1696, 1561]);
  const panels = [1144, 1277];
  return (
    <g>
      <Letter x={1047} y={1553} t="L" />
      <T x={1097} y={1620} s={19} a="middle" r={-90}>Signature</T>
      <T x={1115} y={1620} s={18.5} a="middle" r={-90}>(median Z-score)</T>
      {[1, 0, -1].map((v) => <T key={v} x={1139} y={y(v) + 6} s={16} a="end">{v}</T>)}
      <T x={1091} y={1713} s={16.5}>cluster</T>
      {L_PANELS.map((name, p) => {
        const x0 = panels[p];
        const x = d3.scalePoint<string>().domain(CLUSTERS).range([x0 + 16, x0 + 97]);
        return (
          <g key={name}>
            <rect x={x0} y={1544} width={113} height={17} fill="#d0d0d0" />
            <rect x={x0} y={1561} width={113} height={135} fill="#e5e5e5" />
            <T x={x0 + 56.5} y={1557} s={10.5} a="middle" c="#333">{name}</T>
            {[1.5, 0.5, -0.5, -1.5].map((v) => <line key={v} x1={x0} x2={x0 + 113} y1={y(v)} y2={y(v)} stroke="#f2f2f2" strokeWidth={0.7} />)}
            {[1, 0, -1].map((v) => <line key={v} x1={x0} x2={x0 + 113} y1={y(v)} y2={y(v)} stroke="#fff" strokeWidth={1.3} />)}
            {CLUSTERS.map((c) => <line key={c} x1={x(c)} x2={x(c)} y1={1561} y2={1696} stroke="#fff" strokeWidth={1.3} />)}
            {CLUSTERS.map((c, k) => {
              const [q1, med, q3, lo, hi] = L_BOXES[p][k];
              const cx = x(c)!;
              return (
                <g key={c} stroke={L_COLORS[k]} strokeWidth={1.4}>
                  <line x1={cx} x2={cx} y1={y(lo)} y2={y(hi)} />
                  <rect x={cx - 10.5} y={y(q3)} width={21} height={y(q1) - y(q3)} fill="#fff" />
                  <line x1={cx - 10.5} x2={cx + 10.5} y1={y(med)} y2={y(med)} strokeWidth={2} />
                  {L_OUTLIERS[p][k].map((v, i) => <circle key={i} cx={cx} cy={y(v)} r={2.5} fill="#000" stroke="none" />)}
                  <T x={cx - 2} y={1713} s={16.5} a="middle">{c}</T>
                </g>
              );
            })}
          </g>
        );
      })}
      <PTable rows={L_P_LEFT} cols={[1158, 1198, 1232]} box={[1132, 1252]} rowLabels />
      <PTable rows={L_P_RIGHT} cols={[1286, 1337, 1383]} box={[1258, 1405]} />
      <T x={1257} y={1796} s={14} a="middle" f={LATO}>p values</T>
    </g>
  );
}

export default function App() {
  return (
    <svg width={1454} height={1800} viewBox="0 0 1454 1800" style={{ position: 'absolute', left: 0, top: 0, background: '#fff' }}>
      <defs>
        {colorBar('exprBar', ['#fff', '#ff0000'])}
        {colorBar('cBar', ['#1418f0', '#9898e4', '#fffde0', '#ffa890', '#f03c3c'])}
        {colorBar('dBar', ['#1418f0', '#9898e4', '#fffde0', '#ffa890', '#f03c3c'])}
        {colorBar('iBar', ['#c40d13', '#ffffff', '#03225f'])}
      </defs>
      <PanelA />
      <PanelB />
      <PanelC />
      <PanelD />
      <PanelE />
      <PanelF />
      <PanelG />
      <PanelH />
      <PanelI />
      <PanelJ />
      <PanelK />
      <PanelL />
    </svg>
  );
}
